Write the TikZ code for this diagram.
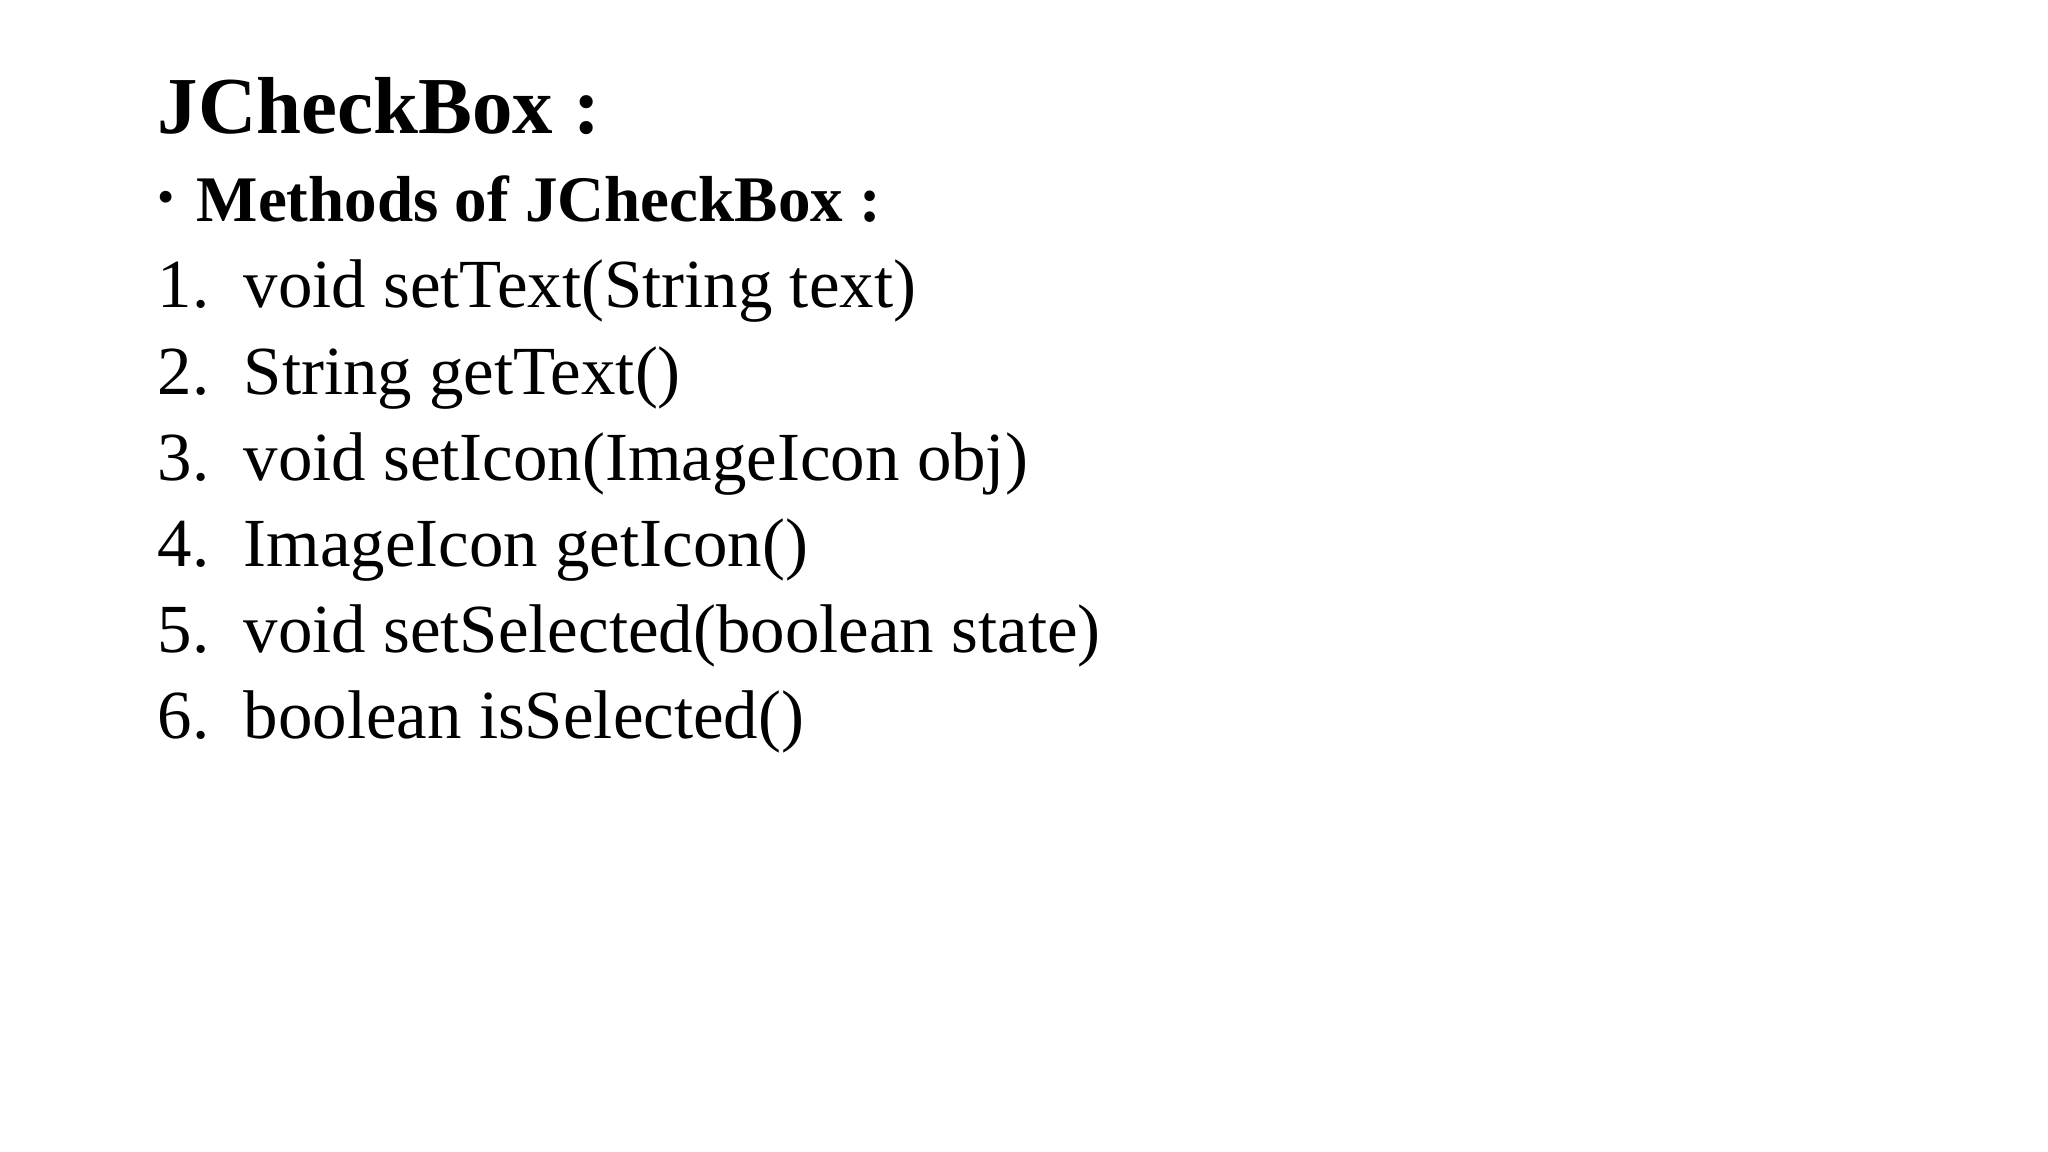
\documentclass[tikz,border=0pt]{standalone}
\usepackage{fontspec}
\setmainfont{Liberation Serif}
\begin{document}
\begin{tikzpicture}[x=1cm,y=1cm,
  txt/.style={anchor=base west,inner sep=0pt,font=\fontsize{19.6pt}{22pt}\selectfont}]
\useasboundingbox (0,0) rectangle (20.48,11.52);
\node[anchor=base west,inner sep=0pt,font=\fontsize{23pt}{26pt}\selectfont\bfseries] (title) at (1.57,10.18) {JCheckBox :};
\node[anchor=base west,inner sep=0pt,font=\fontsize{14pt}{16pt}\selectfont] (bul) at (1.57,9.38) {•};
\node[anchor=base west,inner sep=0pt,font=\fontsize{18.5pt}{21pt}\selectfont\bfseries] (sub) at (1.96,9.30) {Methods of JCheckBox :};
\foreach \n/\t [count=\i] in {1/void setText(String text),2/String getText(),3/void setIcon(ImageIcon obj),4/ImageIcon getIcon(),5/void setSelected(boolean state),6/boolean isSelected()}{
  \node[txt] (num\i) at (1.57,{8.44-0.862*(\i-1)}) {\n.};
  \node[txt] (item\i) at (2.43,{8.44-0.862*(\i-1)}) {\t};
}
\end{tikzpicture}
\end{document}
